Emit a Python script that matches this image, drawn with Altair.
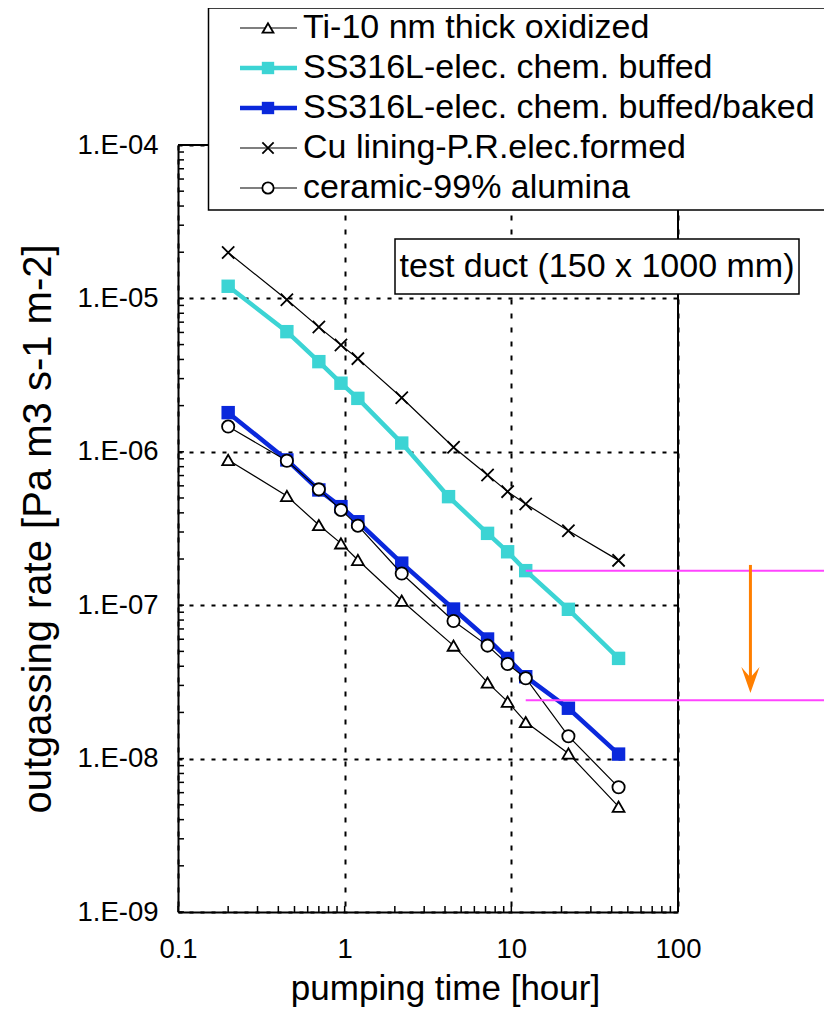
import altair as alt
import pandas as pd

# ---------------- data ----------------
TIME = [0.2, 0.45, 0.7, 0.95, 1.2, 2.2, 4.5, 7.2, 9.5, 12.2, 22, 44]
TIME_SS_BUFFED = [0.2, 0.45, 0.7, 0.95, 1.2, 2.2, 4.2, 7.2, 9.5, 12.2, 22, 44]

TI = [8.85e-7, 5.15e-7, 3.33e-7, 2.53e-7, 1.97e-7, 1.07e-7, 5.45e-8, 3.13e-8, 2.35e-8, 1.73e-8, 1.08e-8, 4.86e-9]
SS_BUFFED = [1.2e-5, 6.07e-6, 3.87e-6, 2.8e-6, 2.23e-6, 1.14e-6, 5.1e-7, 2.94e-7, 2.23e-7, 1.68e-7, 9.4e-8, 4.5e-8]
SS_BAKED = [1.8e-6, 8.85e-7, 5.64e-7, 4.39e-7, 3.5e-7, 1.88e-7, 9.44e-8, 6.02e-8, 4.5e-8, 3.42e-8, 2.13e-8, 1.07e-8]
CU = [1.99e-5, 9.8e-6, 6.5e-6, 4.97e-6, 4.05e-6, 2.25e-6, 1.07e-6, 7.06e-7, 5.5e-7, 4.57e-7, 3.06e-7, 1.96e-7]
CERAMIC = [1.46e-6, 8.75e-7, 5.69e-7, 4.18e-7, 3.3e-7, 1.61e-7, 7.89e-8, 5.45e-8, 4.14e-8, 3.34e-8, 1.4e-8, 6.5e-9]

SERIES_NAMES = [
    "Ti-10 nm thick oxidized",
    "SS316L-elec. chem. buffed",
    "SS316L-elec. chem. buffed/baked",
    "Cu lining-P.R.elec.formed",
    "ceramic-99% alumina",
]
ANNOTATION = "test duct (150 x 1000 mm)"
X_TITLE = "pumping time [hour]"
Y_TITLE = "outgassing rate [Pa m3 s-1 m-2]"

X_DOMAIN = [0.1, 100]
Y_DOMAIN = [1e-9, 1e-4]
X_MAJOR = [0.1, 1, 10, 100]
Y_MAJOR = [1e-9, 1e-8, 1e-7, 1e-6, 1e-5, 1e-4]
X_MINOR = [m * d for d in [0.1, 1, 10] for m in range(2, 10)]
Y_MINOR = [m * d for d in [1e-9, 1e-8, 1e-7, 1e-6, 1e-5] for m in range(2, 10)]

# reduction markers (magenta levels + orange arrow)
LEVEL_START = [12.2, 12.2]
LEVEL_END = [900, 900]
LEVELS = [1.68e-7, 2.4e-8]
ARROW_X = [272]
ARROW_FROM = [1.83e-7]
ARROW_TO = [3.0e-8]
ARROW_HEAD = [3.25e-8]

# ---------------- styling ----------------
W, H = 500, 767
FONT = "Liberation Sans"
CYAN = "#3cd4d4"
BLUE = "#0a28dc"
CROSS = "M-1,-1L1,1M-1,1L1,-1"
ARROW_PATH = "M-0.7,-1L0,1L0.7,-1L0,-0.2Z"

STYLES = {
    SERIES_NAMES[0]: dict(color="black", width=1.2, shape="triangle-up", fill="white", size=140),
    SERIES_NAMES[1]: dict(color=CYAN, width=4.5, shape="square", fill=CYAN, size=180),
    SERIES_NAMES[2]: dict(color=BLUE, width=4.5, shape="square", fill=BLUE, size=180),
    SERIES_NAMES[3]: dict(color="black", width=1.2, shape=CROSS, fill="none", size=150),
    SERIES_NAMES[4]: dict(color="black", width=1.2, shape="circle", fill="white", size=150),
}

SERIES_DATA = {
    SERIES_NAMES[0]: (TIME, TI),
    SERIES_NAMES[1]: (TIME_SS_BUFFED, SS_BUFFED),
    SERIES_NAMES[2]: (TIME, SS_BAKED),
    SERIES_NAMES[3]: (TIME, CU),
    SERIES_NAMES[4]: (TIME, CERAMIC),
}

xs = alt.Scale(type="log", domain=X_DOMAIN)
ys = alt.Scale(type="log", domain=Y_DOMAIN)

x_axis = alt.Axis(
    values=X_MAJOR, format="~g", labelFont=FONT, labelFontSize=27.5, labelColor="black",
    labelPadding=23, labelFlush=False, ticks=False, tickSize=0, grid=True, gridColor="black",
    gridDash=[5, 9], gridWidth=2, gridOpacity=1, domain=True, domainColor="black", domainWidth=2,
    title=X_TITLE, titleFont=FONT, titleFontSize=35, titleFontWeight="normal", titleColor="black",
    titleX=267, titleY=76, titleBaseline="middle", titleAlign="center",
)
y_axis = alt.Axis(
    values=Y_MAJOR, labelExpr="'1.E-0' + round(-log(datum.value)/LN10)", labelFont=FONT,
    labelFontSize=27.5, labelColor="black", labelPadding=20, labelFlush=False, ticks=False,
    tickSize=0, grid=True, gridColor="black", gridDash=[4, 7], gridWidth=2, gridOpacity=1,
    domain=True, domainColor="black", domainWidth=2,
    title=Y_TITLE, titleFont=FONT, titleFontSize=40, titleFontWeight="normal", titleColor="black",
    titleAngle=270, titleX=-140, titleY=H / 2, titleBaseline="middle", titleAlign="center",
)


def X(f):
    return alt.X(f, type="quantitative", scale=xs, axis=x_axis)


def Y(f):
    return alt.Y(f, type="quantitative", scale=ys, axis=y_axis)


# frame (top & right) drawn from the domain ends
frame_df = pd.DataFrame({
    "x": [X_DOMAIN[0], X_DOMAIN[1]], "x2": [X_DOMAIN[1], X_DOMAIN[1]],
    "y": [Y_DOMAIN[1], Y_DOMAIN[0]], "y2": [Y_DOMAIN[1], Y_DOMAIN[1]],
})
frame = alt.Chart(frame_df).mark_rule(color="black", strokeWidth=2).encode(
    x=X("x"), y=Y("y"), x2="x2:Q", y2="y2:Q",
)

# inward ticks
yticks = alt.Chart(pd.DataFrame({"v": Y_MINOR + Y_MAJOR})).mark_rule(color="black", strokeWidth=1.5).encode(
    y=Y("v"), x=alt.value(0), x2=alt.value(6)
)
xticks = alt.Chart(pd.DataFrame({"t": X_MINOR + X_MAJOR})).mark_rule(color="black", strokeWidth=1.5).encode(
    x=X("t"), y=alt.value(H), y2=alt.value(H - 6)
)

layers = [frame, yticks, xticks]


def point_kwargs(st, scale=1.0):
    kw = dict(shape=st["shape"], size=st["size"] * scale, opacity=1, strokeWidth=1.8)
    if st["fill"] == "none":
        kw.update(filled=False, stroke=st["color"])
    else:
        kw.update(filled=True, fill=st["fill"], stroke=st["color"])
        if st["fill"] != "white":
            kw["strokeWidth"] = 0
    return kw


draw_order = [SERIES_NAMES[1], SERIES_NAMES[2], SERIES_NAMES[0], SERIES_NAMES[3], SERIES_NAMES[4]]
for name in draw_order:
    st = STYLES[name]
    tt, vv = SERIES_DATA[name]
    base = alt.Chart(pd.DataFrame({"t": tt, "v": vv}))
    layers.append(base.mark_line(color=st["color"], strokeWidth=st["width"]).encode(x=X("t"), y=Y("v")))
    layers.append(base.mark_point(**point_kwargs(st)).encode(x=X("t"), y=Y("v")))

# magenta levels and orange arrow
level_df = pd.DataFrame({"t": LEVEL_START, "t2": LEVEL_END, "v": LEVELS})
layers.append(alt.Chart(level_df).mark_rule(color="#ff44ff", strokeWidth=2).encode(
    x=X("t"), x2="t2:Q", y=Y("v")))
arrow_df = pd.DataFrame({"t": ARROW_X, "v": ARROW_FROM, "v2": ARROW_TO, "h": ARROW_HEAD})
layers.append(alt.Chart(arrow_df).mark_rule(color="#ff7f00", strokeWidth=3).encode(
    x=X("t"), y=Y("v"), y2="v2:Q"))
layers.append(alt.Chart(arrow_df).mark_point(shape=ARROW_PATH, filled=True, color="#ff7f00",
                                             opacity=1, size=676, strokeWidth=0).encode(
    x=X("t"), y=Y("h")))

# annotation box
one = pd.DataFrame({"label": [ANNOTATION]})
layers.append(alt.Chart(one).mark_rect(fill="white", stroke="black", strokeWidth=1.5).encode(
    x=alt.value(217), x2=alt.value(621), y=alt.value(94), y2=alt.value(149)))
layers.append(alt.Chart(one).mark_text(font=FONT, fontSize=34, align="center", baseline="middle",
                                       color="black").encode(
    x=alt.value(419), y=alt.value(122), text="label:N"))

# legend
layers.append(alt.Chart(one).mark_rect(fill="white", stroke="black", strokeWidth=1.5).encode(
    x=alt.value(30.5), x2=alt.value(700), y=alt.value(-137), y2=alt.value(65)))
for i, name in enumerate(SERIES_NAMES):
    st = STYLES[name]
    yrow = -117 + 40 * i
    row = alt.Chart(pd.DataFrame({"label": [name]}))
    layers.append(row.mark_rule(color=st["color"], strokeWidth=st["width"]).encode(
        x=alt.value(62), x2=alt.value(119), y=alt.value(yrow)))
    layers.append(row.mark_point(**point_kwargs(st, 0.85)).encode(x=alt.value(90), y=alt.value(yrow)))
    layers.append(row.mark_text(font=FONT, fontSize=34, align="left", baseline="middle",
                                color="black").encode(
        x=alt.value(125), y=alt.value(yrow), text="label:N"))

chart = alt.layer(*layers).properties(
    width=W, height=H,
    autosize="none",
    padding={"left": 170, "top": 137, "right": 146, "bottom": 95},
    background="white",
).configure_view(stroke="transparent")

chart.save("out.html", embed_options={"renderer": "svg", "actions": False})
